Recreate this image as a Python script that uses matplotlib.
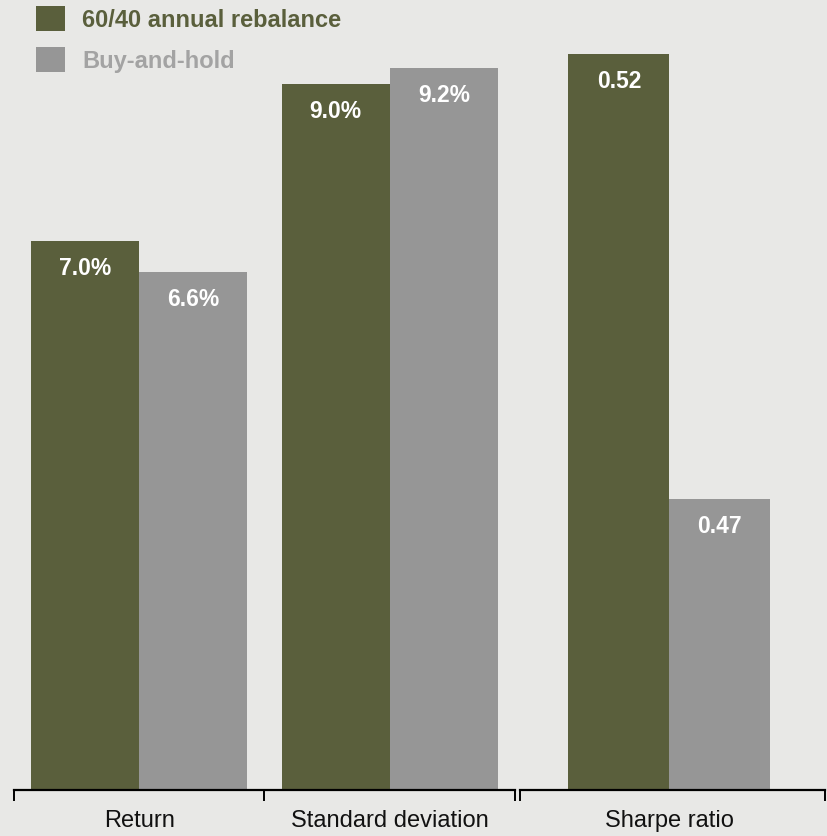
import matplotlib
matplotlib.use("Agg")
import matplotlib.pyplot as plt

plt.rcParams['font.family'] = ['Liberation Sans', 'DejaVu Sans']

# ---- data ----
pct_categories = ["Return", "Standard deviation"]
pct_rebalance = [7.0, 9.0]
pct_buyhold = [6.6, 9.2]
ratio_categories = ["Sharpe ratio"]
ratio_rebalance = [0.52]
ratio_buyhold = [0.47]
series_names = ["60/40 annual rebalance", "Buy-and-hold"]

GREEN = "#5a5f3c"
GRAY = "#969696"
GRAY_TXT = "#a3a3a3"
BG = "#e8e8e6"

W, H = 827, 837
fig = plt.figure(figsize=(W / 100, H / 100), dpi=100, facecolor=BG)

bottom_px, top_px = 791, 40
b = 1 - bottom_px / H
h = (bottom_px - top_px) / H

ax1 = fig.add_axes([14 / W, b, (515 - 14) / W, h])
ax2 = fig.add_axes([520 / W, b, (825 - 520) / W, h])

def style(ax, cats, lo, hi, xlo, xhi):
    ax.set_facecolor(BG)
    for s in ["left", "right", "top"]:
        ax.spines[s].set_visible(False)
    ax.spines["bottom"].set_linewidth(1.6)
    ax.spines["bottom"].set_color("black")
    ax.set_yticks([])
    n = len(cats)
    ax.set_xlim(xlo, xhi)
    ax.set_xticks(range(n))
    ax.set_xticklabels(cats, fontsize=17, color="#111111")
    ax.set_xticks([xlo] + [i + 0.5 for i in range(n - 1)] + [xhi], minor=True)
    ax.tick_params(axis="x", which="major", length=0, pad=14)
    ax.tick_params(axis="x", which="minor", length=8, width=1.4, direction="out", color="black")
    ax.set_ylim(lo, hi)

style(ax1, pct_categories, 0, 9.573, -0.5, 1.5)
style(ax2, ratio_categories, 0.4373, 0.5217, -0.49, 0.51)

def bars(ax, v1, v2, w, fmt, base):
    xs = range(len(v1))
    b1 = ax.bar([x - w / 2 for x in xs], [v - base for v in v1], w, bottom=base,
                color=GREEN, label=series_names[0])
    b2 = ax.bar([x + w / 2 for x in xs], [v - base for v in v2], w, bottom=base,
                color=GRAY, label=series_names[1])
    for bs, vals in ((b1, v1), (b2, v2)):
        for r, v in zip(bs, vals):
            ax.annotate(fmt.format(v), (r.get_x() + r.get_width() / 2, v),
                        xytext=(0, -19), textcoords="offset points",
                        ha="center", va="center", color="white",
                        fontsize=16.5, fontweight="bold")
    return b1, b2

h1, h2 = bars(ax1, pct_rebalance, pct_buyhold, 0.432, "{:.1f}%", 0)
bars(ax2, ratio_rebalance, ratio_buyhold, 0.331, "{:.2f}", 0.4373)

leg = fig.legend([h1, h2], series_names, loc="upper left",
                 bbox_to_anchor=(36 / W, 1 - 7 / H), bbox_transform=fig.transFigure,
                 frameon=False, fontsize=17, borderpad=0, borderaxespad=0,
                 handlelength=1.23, handleheight=1.23, handletextpad=0.72,
                 labelspacing=0.66)
for t, c in zip(leg.get_texts(), [GREEN, GRAY_TXT]):
    t.set_color(c)
    t.set_fontweight("bold")

fig.savefig("out.png", dpi=100, facecolor=BG)
